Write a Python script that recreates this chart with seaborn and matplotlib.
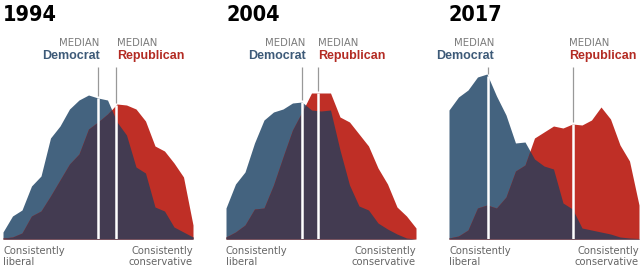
import numpy as np
import seaborn as sns
import matplotlib
matplotlib.use('Agg')
import matplotlib.pyplot as plt

# ideological consistency scale, -10 (consistently liberal) .. +10 (consistently conservative)
scale = list(range(-10, 11))
years = ['1994', '2004', '2017']

# relative share of each party at each scale point
dem_1994 = [7, 23, 29, 53, 63, 101, 113, 130, 139, 144, 141, 139, 117, 104, 72, 66, 32, 28, 12, 7, 2]
rep_1994 = [1, 2, 6, 23, 28, 43, 59, 75, 85, 110, 117, 125, 135, 134, 130, 118, 93, 88, 76, 62, 14]

dem_2004 = [31, 55, 67, 96, 119, 127, 130, 136, 137, 129, 128, 129, 89, 54, 33, 29, 16, 10, 5, 1, 0]
rep_2004 = [2, 7, 14, 30, 31, 54, 82, 109, 127, 146, 146, 146, 122, 117, 105, 93, 71, 55, 32, 23, 11]

dem_2017 = [129, 142, 149, 162, 165, 143, 124, 96, 97, 80, 73, 70, 36, 30, 11, 9, 7, 5, 2, 1, 0.5]
rep_2017 = [1, 3, 9, 31, 34, 31, 42, 68, 74, 101, 107, 113, 111, 115, 114, 119, 132, 120, 94, 78, 34]

dem_median = [0.0, -2.0, -5.9]
rep_median = [1.9, -0.3, 3.05]

dem_series = [dem_1994, dem_2004, dem_2017]
rep_series = [rep_1994, rep_2004, rep_2017]

# layout (pixels / offsets)
panel_left_px = [3, 226, 449]
dem_label_shift = [0.15, 0.4, 0.65]
rep_label_shift = [0.15, 0.0, -0.45]

BLUE = '#44637f'
RED = '#bf2f26'
PURPLE = '#433b51'
DEM_TXT = '#3d5a78'
REP_TXT = '#b32b23'
GREY = '#7a7a7a'

sns.set_style('white')
plt.rcParams['font.family'] = ['DejaVu Sans']

W, H = 640, 268
fig = plt.figure(figsize=(W / 100, H / 100), dpi=100)
fig.patch.set_facecolor('white')

party_font = ['Liberation Sans', 'DejaVu Sans']

x = np.array(scale, dtype=float)
xf = np.linspace(-10, 10, 801)

for k in range(3):
    left = panel_left_px[k]
    ax = fig.add_axes([left / W, 29 / H, 190 / W, 170 / H])
    ax.set_xlim(-10, 10)
    ax.set_ylim(0, 170)
    ax.axis('off')

    dem = np.interp(xf, x, dem_series[k])
    rep = np.interp(xf, x, rep_series[k])
    both = np.minimum(dem, rep)
    top = np.maximum(dem, rep)

    ax.fill_between(xf, 0, dem, color=BLUE, lw=0)
    ax.fill_between(xf, 0, rep, color=RED, lw=0)
    ax.fill_between(xf, 0, both, color=PURPLE, lw=0)

    for med in (dem_median[k], rep_median[k]):
        h = np.interp(med, xf, top)
        ax.plot([med, med], [0, h], color='white', lw=1.8, solid_capstyle='butt')
        ax.plot([med, med], [h + 2, 172], color='#999999', lw=0.9,
                solid_capstyle='butt', clip_on=False)

    dx = dem_median[k] + dem_label_shift[k]
    rx = rep_median[k] + rep_label_shift[k]
    ax.text(dx, 196, 'MEDIAN', ha='right', va='center', fontsize=7.3,
            color=GREY, clip_on=False)
    ax.text(dx, 182.5, 'Democrat', ha='right', va='center', fontsize=9,
            fontweight='bold', color=DEM_TXT, family=party_font, clip_on=False)
    ax.text(rx, 196, 'MEDIAN', ha='left', va='center', fontsize=7.3,
            color=GREY, clip_on=False)
    ax.text(rx, 182.5, 'Republican', ha='left', va='center', fontsize=9,
            fontweight='bold', color=REP_TXT, family=party_font, clip_on=False)

    ax.text(-10, 224, years[k], ha='left', va='center', fontsize=15.5,
            fontweight='bold', fontstretch='condensed', color='black',
            family='DejaVu Sans', clip_on=False)

    ax.text(-10, -6.5, 'Consistently\nliberal', ha='left', va='top', fontsize=7.2,
            color='#666666', linespacing=1.2, clip_on=False)
    ax.text(10, -6.5, 'Consistently\nconservative', ha='right', va='top', fontsize=7.2,
            color='#666666', linespacing=1.2, clip_on=False)

fig.savefig('out.png', dpi=100, facecolor='white')
